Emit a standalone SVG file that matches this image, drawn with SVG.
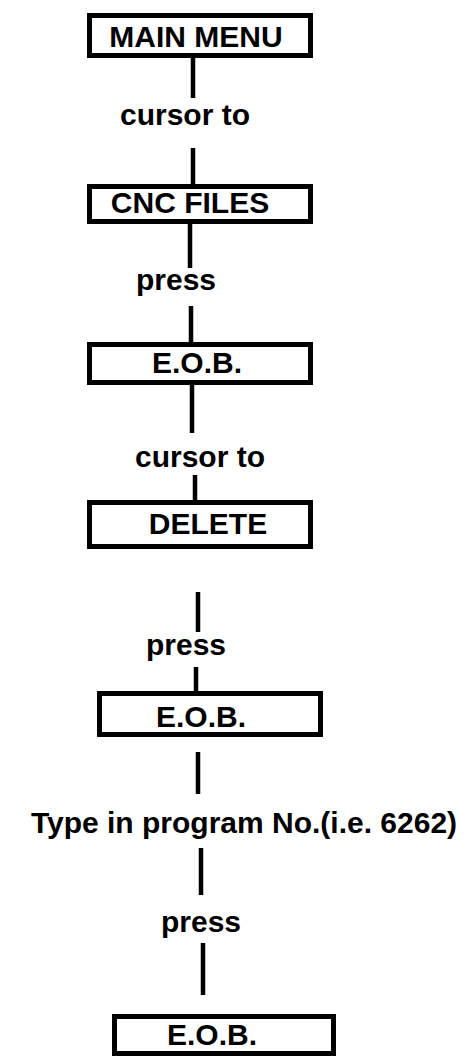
<svg xmlns="http://www.w3.org/2000/svg" width="467" height="1056" viewBox="0 0 467 1056">
  <style>
    .box { fill: #fff; stroke: #000; stroke-width: 5; }
    .link { stroke: #000; stroke-width: 4.5; fill: none; }
    .t { font-family: "Liberation Sans", Arial, sans-serif; font-weight: bold; font-size: 30px; fill: #000; text-anchor: middle; }
  </style>
  <rect width="467" height="1056" fill="#fff"/>

  <!-- vertical connectors and their step labels -->
  <g id="connectors">
    <line class="link" x1="193" y1="58" x2="193" y2="98"/>
    <line class="link" x1="193" y1="148" x2="193" y2="184"/>
    <line class="link" x1="190" y1="224" x2="190" y2="268"/>
    <line class="link" x1="191" y1="306" x2="191" y2="342"/>
    <line class="link" x1="192" y1="385" x2="192" y2="433"/>
    <line class="link" x1="195" y1="475" x2="195" y2="500"/>
    <line class="link" x1="198" y1="592" x2="198" y2="632"/>
    <line class="link" x1="196" y1="667" x2="196" y2="692"/>
    <line class="link" x1="198" y1="752" x2="198" y2="794"/>
    <line class="link" x1="201" y1="848" x2="201" y2="895"/>
    <line class="link" x1="203" y1="943" x2="203" y2="995"/>
    <text class="t" x="185" y="125">cursor to</text>
    <text class="t" x="176" y="290">press</text>
    <text class="t" x="200" y="467">cursor to</text>
    <text class="t" x="186" y="655">press</text>
    <text class="t" x="244" y="833">Type in program No.(i.e. 6262)</text>
    <text class="t" x="201" y="932">press</text>
  </g>

  <g id="main-menu">
    <rect class="box" x="89.5" y="15.5" width="221" height="40"/>
    <text class="t" x="196" y="47">MAIN MENU</text>
  </g>
  <g id="cnc-files">
    <rect class="box" x="89.5" y="186.5" width="221" height="35"/>
    <text class="t" x="190" y="213">CNC FILES</text>
  </g>
  <g id="eob-1">
    <rect class="box" x="89.5" y="344.5" width="221" height="38"/>
    <text class="t" x="197" y="373">E.O.B.</text>
  </g>
  <g id="delete">
    <rect class="box" x="89.5" y="502.5" width="221" height="44"/>
    <text class="t" x="208" y="534">DELETE</text>
  </g>
  <g id="eob-2">
    <rect class="box" x="99.5" y="693.5" width="221" height="41"/>
    <text class="t" x="201" y="727">E.O.B.</text>
  </g>
  <g id="eob-3">
    <rect class="box" x="114.5" y="1016.5" width="219" height="37"/>
    <text class="t" x="212" y="1045">E.O.B.</text>
  </g>
</svg>
